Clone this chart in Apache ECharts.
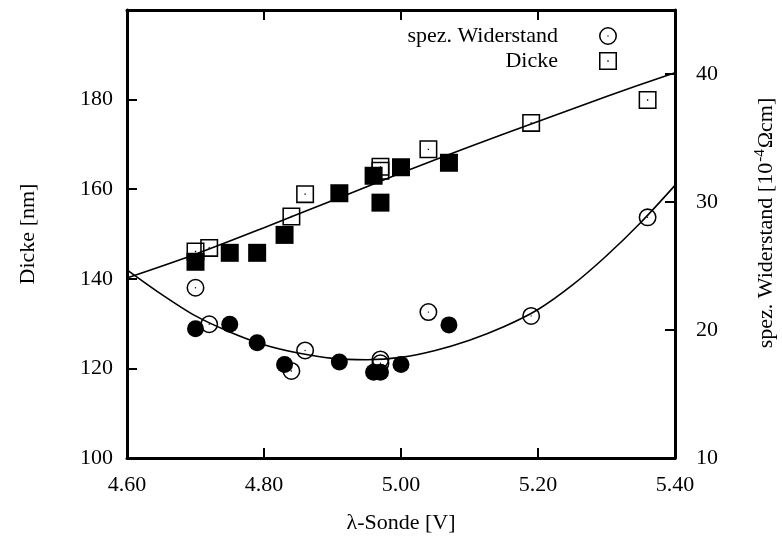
<!DOCTYPE html>
<html>
<head>
<meta charset="utf-8">
<script src="https://cdn.jsdelivr.net/npm/echarts@6/dist/echarts.min.js"></script>
<style>
html,body{margin:0;padding:0;background:#fff;}
#chart{width:782px;height:536px;}
</style>
</head>
<body>
<div id="chart"></div>
<script>
// X axis (λ-Sonde [V])
const xMin = 4.6, xMax = 5.4, xStep = 0.2;
// Left axis (Dicke [nm])
const dMin = 100, dMax = 200, dStep = 20;
// Right axis (spez. Widerstand)
const rMin = 10, rMax = 45, rStep = 10;

// Dicke, open squares
const dOpenX = [4.70, 4.72, 4.84, 4.86, 4.97, 4.97, 5.04, 5.19, 5.36];
const dOpenY = [146.1, 146.9, 153.9, 158.9, 165.0, 164.1, 168.9, 174.8, 179.9];
// Dicke, filled squares
const dFillX = [4.70, 4.75, 4.79, 4.83, 4.91, 4.96, 4.97, 5.00, 5.07];
const dFillY = [143.8, 145.8, 145.8, 149.8, 159.1, 163.0, 157.0, 164.9, 165.9];
// Widerstand, open circles
const rOpenX = [4.70, 4.72, 4.84, 4.86, 4.97, 4.97, 5.04, 5.19, 5.36];
const rOpenY = [23.3, 20.45, 16.8, 18.4, 17.7, 17.4, 21.4, 21.1, 28.8];
// Widerstand, filled circles
const rFillX = [4.70, 4.75, 4.79, 4.83, 4.91, 4.96, 4.97, 5.00, 5.07];
const rFillY = [20.1, 20.45, 19.0, 17.3, 17.5, 16.7, 16.7, 17.3, 20.4];
// Fit curves
const dFitX = [4.60, 4.70, 4.80, 4.90, 5.00, 5.10, 5.20, 5.30, 5.40];
const dFitY = [140.2, 145.5, 151.4, 157.5, 163.6, 169.5, 175.1, 180.7, 186.0];
const rFitX = [4.60, 4.65, 4.70, 4.75, 4.80, 4.85, 4.90, 4.95, 5.00, 5.05, 5.10, 5.15, 5.20, 5.25, 5.30, 5.35, 5.40];
const rFitY = [24.7, 22.8, 21.1, 19.85, 18.85, 18.2, 17.78, 17.68, 17.86, 18.4, 19.2, 20.25, 21.6, 23.5, 25.8, 28.4, 31.3];

const nameR = 'spez. Widerstand';
const nameD = 'Dicke';

const zip = (xs, ys) => xs.map((x, i) => [x, ys[i]]);
const FONT = '"Liberation Serif", "DejaVu Serif", serif';
const FS = 22;

const circleOpen = 'path://M10,0A10,10,0,1,1,10,20A10,10,0,1,1,10,0ZM10,1.7A8.3,8.3,0,1,0,10,18.3A8.3,8.3,0,1,0,10,1.7ZM9.25,10A0.75,0.75,0,1,0,10.75,10A0.75,0.75,0,1,0,9.25,10Z';
const squareOpen = 'path://M0,0L20,0L20,20L0,20ZM1.7,1.7L1.7,18.3L18.3,18.3L18.3,1.7ZM9.25,9.25L9.25,10.75L10.75,10.75L10.75,9.25Z';

const lbl = {color: '#000', fontFamily: FONT, fontSize: FS};
const frameLine = {show: true, onZero: false, lineStyle: {color: '#000', width: 3}};
const tick = {show: true, inside: true, length: 10, lineStyle: {color: '#000', width: 2}};
const markStyle = {color: '#000', opacity: 1};

const chart = echarts.init(document.getElementById('chart'), null, {renderer: 'canvas'});
chart.setOption({
  animation: false,
  backgroundColor: '#fff',
  grid: {left: 127, right: 107, top: 10, bottom: 78, containLabel: false, outerBoundsMode: 'none'},
  legend: {
    data: [nameR, nameD],
    orient: 'vertical',
    align: 'right',
    right: 160,
    top: 20,
    itemWidth: 90,
    itemHeight: 18,
    itemGap: 3,
    itemStyle: {opacity: 1},
    textStyle: {color: '#000', fontFamily: FONT, fontSize: FS},
    inactiveColor: '#000'
  },
  xAxis: [{
    type: 'value', min: xMin, max: xMax, interval: xStep,
    position: 'bottom',
    axisLine: frameLine, axisTick: tick,
    axisLabel: Object.assign({margin: 16, formatter: v => v.toFixed(2)}, lbl),
    splitLine: {show: false},
    name: 'λ-Sonde [V]', nameLocation: 'middle', nameGap: 54,
    nameTextStyle: lbl
  }, {
    type: 'value', min: xMin, max: xMax, interval: xStep,
    position: 'top',
    axisLine: frameLine, axisTick: tick,
    axisLabel: {show: false},
    splitLine: {show: false}
  }],
  yAxis: [{
    type: 'value', min: dMin, max: dMax, interval: dStep,
    position: 'left',
    axisLine: frameLine, axisTick: tick,
    axisLabel: Object.assign({margin: 14, showMaxLabel: false}, lbl),
    splitLine: {show: false},
    name: 'Dicke [nm]', nameLocation: 'middle', nameGap: 88,
    nameTextStyle: lbl
  }, {
    type: 'value', min: rMin, max: rMax, interval: rStep,
    position: 'right',
    axisLine: frameLine, axisTick: tick,
    axisLabel: Object.assign({margin: 21, formatter: v => (v > rMax - 1 ? '' : String(v))}, lbl),
    splitLine: {show: false},
    name: '{a|spez. Widerstand [10}{s|-4}{a|Ωcm]}', nameLocation: 'middle', nameGap: 78,
    nameTextStyle: {
      color: '#000', fontFamily: FONT, fontSize: FS,
      rich: {
        a: {color: '#000', fontFamily: FONT, fontSize: FS},
        s: {color: '#000', fontFamily: FONT, fontSize: 15, padding: [0, 1, 12, 1]}
      },
      padding: [0, 0, 0, 22]
    }
  }],
  series: [
    {name: 'fitD', type: 'line', data: zip(dFitX, dFitY), xAxisIndex: 0, yAxisIndex: 0,
     showSymbol: false, smooth: 0.3, lineStyle: {color: '#000', width: 1.6}, silent: true, z: 1},
    {name: 'fitR', type: 'line', data: zip(rFitX, rFitY), xAxisIndex: 0, yAxisIndex: 1,
     showSymbol: false, smooth: 0.3, lineStyle: {color: '#000', width: 1.6}, silent: true, z: 1},
    {name: nameR, type: 'scatter', data: zip(rOpenX, rOpenY), xAxisIndex: 0, yAxisIndex: 1,
     symbol: circleOpen, symbolSize: 18, itemStyle: markStyle, z: 2},
    {name: 'rFill', type: 'scatter', data: zip(rFillX, rFillY), xAxisIndex: 0, yAxisIndex: 1,
     symbol: 'circle', symbolSize: 17, itemStyle: markStyle, z: 3},
    {name: nameD, type: 'scatter', data: zip(dOpenX, dOpenY), xAxisIndex: 0, yAxisIndex: 0,
     symbol: squareOpen, symbolSize: 18, itemStyle: markStyle, z: 2},
    {name: 'dFill', type: 'scatter', data: zip(dFillX, dFillY), xAxisIndex: 0, yAxisIndex: 0,
     symbol: 'rect', symbolSize: 18, itemStyle: markStyle, z: 3}
  ]
});
</script>
</body>
</html>
